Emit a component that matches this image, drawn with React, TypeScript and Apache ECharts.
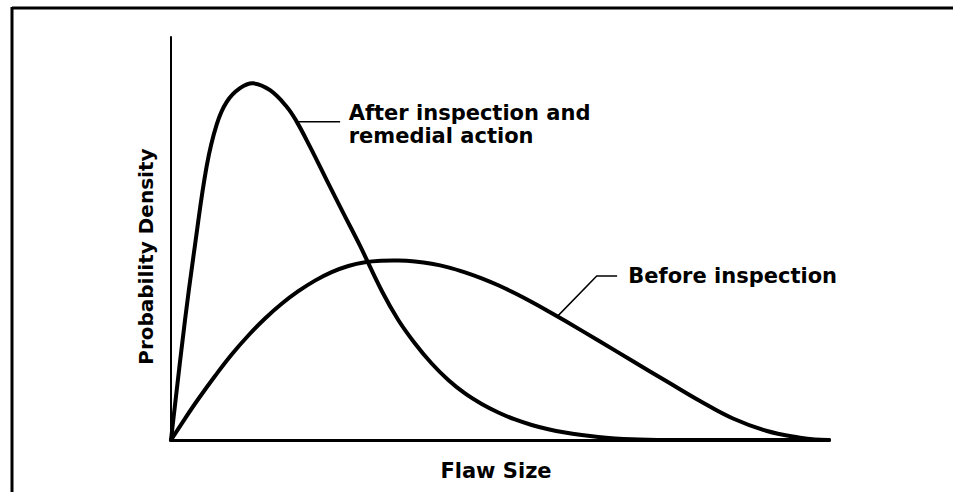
import React, { useEffect, useRef } from "react";
import * as echarts from "echarts";

// Flaw size (0..100 relative) and probability density (0..100 relative)
const afterX = [0, 0.61, 2.13, 3.65, 5.43, 6.95, 8.47, 10.49, 12.51, 15.05, 17.58, 19.1, 21.12, 23.66, 26.19, 28.72, 32.02, 34.54, 37.08, 39.62, 42.14, 44.68, 47.22, 49.74, 52.28, 54.82, 57.34, 59.88, 62.42, 64.94, 67.48, 70.02, 72.54, 75.08, 100];
const afterY = [0, 8.7, 29.8, 48.4, 68.0, 78.3, 83.9, 87.3, 88.5, 86.8, 82.7, 79.0, 72.8, 64.5, 56.3, 48.21, 37.04, 29.78, 23.95, 18.98, 14.89, 11.54, 8.93, 6.82, 5.09, 3.72, 2.66, 1.84, 1.22, 0.74, 0.40, 0.17, 0.05, 0, 0];

const beforeX = [0, 2.13, 4.15, 6.69, 9.22, 11.75, 14.29, 16.82, 19.35, 21.88, 24.42, 26.95, 29.48, 32.02, 34.54, 37.08, 39.62, 42.14, 44.68, 47.22, 49.74, 52.28, 54.82, 57.34, 59.88, 65.2, 70.21, 75.38, 80.4, 85.41, 90.58, 95.59, 97.87, 100];
const beforeY = [0, 5.33, 10.17, 15.88, 21.22, 25.93, 30.15, 33.8, 36.92, 39.55, 41.66, 43.18, 44.09, 44.47, 44.52, 44.27, 43.72, 42.85, 41.61, 40.12, 38.39, 36.4, 34.24, 31.96, 29.58, 24.44, 19.53, 14.52, 9.68, 5.33, 2.23, 0.57, 0.1, 0];

const seriesNames = ["After inspection and remedial action", "Before inspection"];
const xAxisName = "Flaw Size";
const yAxisName = "Probability Density";

// Annotation leader lines (data coordinates)
const afterLeader = [[19.1, 79.0], [25.7, 79.0]];
const afterLabelAnchor = [27.0, 78.3];
const afterLabel = "After inspection and\nremedial action";
const beforeLeader = [[58.8, 30.8], [64.7, 40.7], [67.8, 40.7]];
const beforeLabelAnchor = [69.5, 40.7];
const beforeLabel = "Before inspection";
const yNameAnchor = [-3.8, 45.5];

const FONT = "DejaVu Sans";

function curveSeries(name: string, xs: number[], ys: number[]) {
  const data = xs.map((x, i) => [x, ys[i]]);
  return {
    name,
    type: "custom",
    data,
    z: 3,
    renderItem: (params: any, api: any) => {
      if (params.dataIndex !== 0) return null;
      const points = data.map((d) => api.coord(d));
      return {
        type: "polyline",
        shape: { points, smooth: 0.4 },
        style: { stroke: "#000", lineWidth: 4, fill: null, lineJoin: "round", lineCap: "round" },
      };
    },
  };
}

export default function App() {
  const ref = useRef<HTMLDivElement>(null);
  useEffect(() => {
    if (!ref.current) return;
    const chart = echarts.init(ref.current, null, { renderer: "svg" });
    chart.setOption({
      animation: false,
      backgroundColor: "#ffffff",
      grid: { left: 171, right: 124, top: 37, bottom: 52 },
      xAxis: {
        type: "value",
        min: 0,
        max: 100,
        name: xAxisName,
        nameLocation: "middle",
        nameGap: 20,
        nameTextStyle: { fontFamily: FONT, fontWeight: "bold", fontSize: 21, color: "#000", padding: [0, 8, 0, 0] },
        axisLine: { show: true, onZero: false, lineStyle: { color: "#000", width: 3 } },
        axisTick: { show: false },
        axisLabel: { show: false },
        splitLine: { show: false },
      },
      yAxis: {
        type: "value",
        min: 0,
        max: 100,
        axisLine: { show: true, lineStyle: { color: "#000", width: 2 } },
        axisTick: { show: false },
        axisLabel: { show: false },
        splitLine: { show: false },
      },
      series: [
        curveSeries(seriesNames[0], afterX, afterY),
        curveSeries(seriesNames[1], beforeX, beforeY),
      ],
    });

    const px = (p: number[]) => chart.convertToPixel({ gridIndex: 0 }, p) as number[];
    const aL = afterLeader.map(px);
    const bL = beforeLeader.map(px);
    const aA = px(afterLabelAnchor);
    const bA = px(beforeLabelAnchor);
    const yA = px(yNameAnchor);
    chart.setOption({
      graphic: [
        { type: "line", shape: { x1: 12, y1: 8, x2: 953, y2: 8 }, style: { stroke: "#000", lineWidth: 3 } },
        { type: "line", shape: { x1: 12, y1: 7, x2: 12, y2: 492 }, style: { stroke: "#000", lineWidth: 3 } },
        { type: "polyline", shape: { points: aL }, style: { stroke: "#000", lineWidth: 1.5, fill: "none" } },
        { type: "polyline", shape: { points: bL }, style: { stroke: "#000", lineWidth: 1.5, fill: "none" } },
        {
          type: "text",
          x: yA[0],
          y: yA[1],
          rotation: Math.PI / 2,
          style: {
            text: yAxisName,
            fontFamily: FONT,
            fontWeight: "bold",
            fontSize: 20,
            fill: "#000",
            align: "center",
            verticalAlign: "middle",
          },
        },
        {
          type: "text",
          x: aA[0],
          y: aA[1],
          style: {
            text: afterLabel,
            fontFamily: FONT,
            fontWeight: "bold",
            fontSize: 21,
            lineHeight: 23,
            fill: "#000",
            align: "left",
            verticalAlign: "middle",
          },
        },
        {
          type: "text",
          x: bA[0],
          y: bA[1],
          style: {
            text: beforeLabel,
            fontFamily: FONT,
            fontWeight: "bold",
            fontSize: 21,
            fill: "#000",
            align: "left",
            verticalAlign: "middle",
          },
        },
      ],
    });
    return () => chart.dispose();
  }, []);
  return (
    <div
      ref={ref}
      style={{ position: "fixed", left: 0, top: 0, width: 953, height: 492, background: "#fff" }}
    />
  );
}
